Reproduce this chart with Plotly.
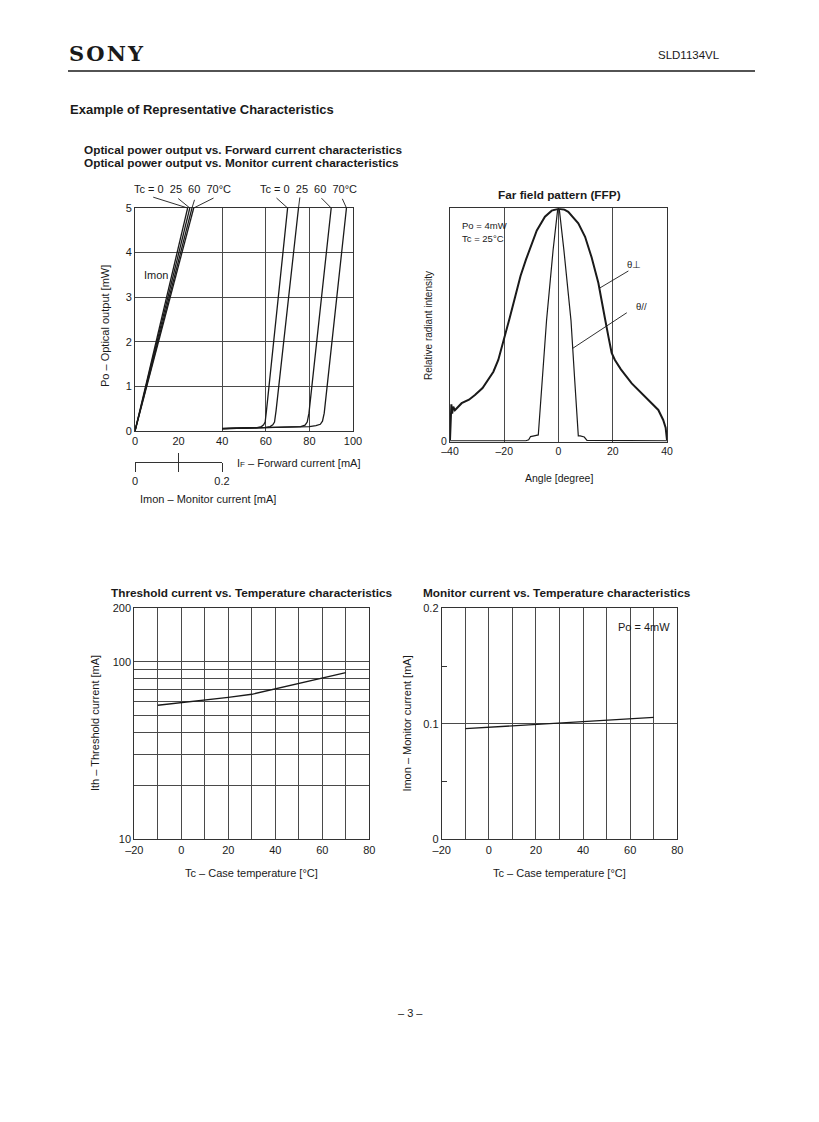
import math
import plotly.graph_objects as go

W, H = 819, 1122
def X(px): return px / W
def Y(py): return 1 - py / H

FONT = "Liberation Sans, Arial, Helvetica, sans-serif"
SERIF = "DejaVu Serif, Liberation Serif, serif"
INK = "#1a1a1a"
GRID = "#4a4a4a"
FRAME = "#333333"

# ---------------- Po vs IF / Imon ----------------
tc_labels = ["0", "25", "60", "70"]
if_tc0 = [0, 30, 56, 58, 59, 59.7, 60.3, 70]
po_tc0 = [0, 0.04, 0.075, 0.1, 0.14, 0.2, 0.45, 5]
if_tc25 = [0, 30, 60, 62, 63.2, 64, 64.7, 75]
po_tc25 = [0, 0.04, 0.08, 0.1, 0.14, 0.2, 0.45, 5]
if_tc60 = [0, 30, 60, 76, 78, 79, 79.8, 90]
po_tc60 = [0, 0.035, 0.07, 0.1, 0.13, 0.2, 0.4, 5]
if_tc70 = [0, 30, 60, 80, 83, 85, 86, 86.8, 97]
po_tc70 = [0, 0.035, 0.07, 0.1, 0.12, 0.15, 0.22, 0.4, 5]
if_curves = [(if_tc0, po_tc0), (if_tc25, po_tc25), (if_tc60, po_tc60), (if_tc70, po_tc70)]

imon_at_5mw = [0.121, 0.126, 0.131, 0.135]   # Imon [mA] at Po = 5 mW, Tc = 0/25/60/70
po_imon_ends = [0, 5]

# ---------------- Far field pattern ----------------
ang_perp = [-40, -39.8, -39.5, -39.2, -38.8, -38.2, -37, -35.7, -33, -30.8, -28, -25.9, -24,
            -22.2, -20, -18, -16, -14, -12, -10, -8, -5, -2.5, 0,
            2, 3.6, 5.5, 7.3, 9.8, 12.2, 14.7, 16.5, 17.1, 18.4, 19.6, 20.8, 23, 27, 30,
            33.1, 35, 36.8, 38.6, 39.5, 40]
int_perp = [0.007, 0.09, 0.16, 0.12, 0.15, 0.135, 0.15, 0.165, 0.18, 0.2, 0.23, 0.264, 0.3,
            0.35, 0.44, 0.53, 0.62, 0.71, 0.78, 0.845, 0.905, 0.964, 0.99, 0.998,
            0.995, 0.985, 0.96, 0.936, 0.878, 0.79, 0.68, 0.578, 0.53, 0.45, 0.38, 0.35, 0.31,
            0.25, 0.215, 0.179, 0.16, 0.136, 0.093, 0.06, 0.007]
ang_par = [-40, -12, -11, -10.3, -9, -7.45, -4.4, -2, -0.3, 0.3, 2, 4.6, 6, 7.3, 8, 9.5, 10.5, 40]
int_par = [0.004, 0.004, 0.008, 0.022, 0.025, 0.029, 0.52, 0.82, 0.995, 0.995, 0.82, 0.52,
           0.26, 0.025, 0.025, 0.02, 0.006, 0.004]

# ---------------- Threshold current vs Tc ----------------
tc_th = [-10, 0, 10, 20, 30, 40, 50, 60, 70]
ith = [56.9, 58.8, 60.9, 63.0, 65.6, 70.5, 75.7, 81.0, 86.8]

# ---------------- Monitor current vs Tc ----------------
tc_mon = [-10, 10, 30, 50, 70]
imon_mon = [0.0958, 0.0982, 0.1006, 0.1030, 0.1055]

# ---------------- tick values / labels ----------------
if_ticks = [0, 20, 40, 60, 80, 100]
po_ticks = [0, 1, 2, 3, 4, 5]
imon_scale_ticks = [0, 0.1, 0.2]
imon_scale_text = ["0", "", "0.2"]
ang_ticks = [-40, -20, 0, 20, 40]
ang_text = ["–40", "–20", "0", "20", "40"]
tc_ticks = list(range(-20, 81, 10))
tc_text = ["–20", "", "0", "", "20", "", "40", "", "60", "", "80"]
ith_ticks = [10, 20, 30, 40, 50, 60, 70, 80, 90, 100, 200]
ith_text = ["10", "", "", "", "", "", "", "", "", "100", "200"]
imon_ticks = [0, 0.1, 0.2]
imon_text = ["0", "0.1", "0.2"]

fig = go.Figure()
LW = 1.3
for xs, ys in if_curves:
    fig.add_trace(go.Scatter(x=xs, y=ys, xaxis="x", yaxis="y", mode="lines",
                             line=dict(color=INK, width=LW), showlegend=False, hoverinfo="skip"))
for im in imon_at_5mw:
    fig.add_trace(go.Scatter(x=[0, im], y=po_imon_ends, xaxis="x6", yaxis="y", mode="lines",
                             line=dict(color=INK, width=LW), showlegend=False, hoverinfo="skip"))
# helper trace so the inside-tick overlay axis is drawn
fig.add_trace(go.Scatter(x=[0], y=[0], xaxis="x7", yaxis="y", mode="markers",
                         marker=dict(size=1, opacity=0), showlegend=False, hoverinfo="skip"))

fig.add_trace(go.Scatter(x=ang_perp, y=int_perp, xaxis="x2", yaxis="y2", mode="lines",
                         line=dict(color=INK, width=2.0), showlegend=False, hoverinfo="skip"))
fig.add_trace(go.Scatter(x=ang_par, y=int_par, xaxis="x2", yaxis="y2", mode="lines",
                         line=dict(color=INK, width=1.2), showlegend=False, hoverinfo="skip"))
fig.add_trace(go.Scatter(x=tc_th, y=ith, xaxis="x3", yaxis="y3", mode="lines",
                         line=dict(color=INK, width=LW), showlegend=False, hoverinfo="skip"))
fig.add_trace(go.Scatter(x=tc_mon, y=imon_mon, xaxis="x4", yaxis="y4", mode="lines",
                         line=dict(color=INK, width=LW), showlegend=False, hoverinfo="skip"))

TICKF = dict(family=FONT, size=11, color=INK)
def ax(**kw):
    base = dict(showline=True, mirror=True, linecolor=FRAME, linewidth=1, ticks="",
                zeroline=False, showgrid=True, gridcolor=GRID, gridwidth=1,
                tickfont=TICKF, fixedrange=True, automargin=False)
    base.update(kw)
    return base

fig.update_layout(
    template="none",
    width=W, height=H, margin=dict(l=0, r=0, t=0, b=0, pad=0), autosize=False,
    paper_bgcolor="white", plot_bgcolor="white", showlegend=False,
    xaxis=ax(domain=[X(135), X(353)], range=[0, 100], anchor="y", tickvals=if_ticks),
    yaxis=ax(domain=[Y(431), Y(208)], range=[0, 5], anchor="x", tickvals=po_ticks),
    xaxis6=dict(domain=[X(135), X(222)], range=[0, 0.2], anchor="free", position=Y(462),
                showline=True, linecolor=FRAME, linewidth=1, ticks="outside", ticklen=9,
                tickcolor=FRAME, tickvals=imon_scale_ticks, ticktext=imon_scale_text,
                showgrid=False, zeroline=False, tickfont=TICKF, fixedrange=True,
                automargin=False),
    xaxis7=dict(overlaying="x6", range=[0, 0.2], anchor="free", position=Y(462),
                showline=False, ticks="inside", ticklen=9, tickcolor=FRAME,
                tickvals=imon_scale_ticks, showticklabels=False, showgrid=False,
                zeroline=False, fixedrange=True, automargin=False),
    xaxis2=ax(domain=[X(450), X(667)], range=[-40, 40], anchor="y2", tickvals=ang_ticks,
              ticktext=ang_text, tickfont=dict(family=FONT, size=10.5, color=INK)),
    yaxis2=ax(domain=[Y(441.7), Y(208.3)], range=[0, 1], anchor="x2", tickvals=[0],
              ticktext=["0"], showgrid=False, tickfont=dict(family=FONT, size=10.5, color=INK)),
    xaxis3=ax(domain=[X(134.3), X(369.3)], range=[-20, 80], anchor="y3", tickvals=tc_ticks,
              ticktext=tc_text),
    yaxis3=ax(domain=[Y(839.3), Y(608.3)], type="log", range=[1, math.log10(200)], anchor="x3",
              tickvals=ith_ticks, ticktext=ith_text),
    xaxis4=ax(domain=[X(441.7), X(677.3)], range=[-20, 80], anchor="y4", tickvals=tc_ticks,
              ticktext=tc_text),
    yaxis4=ax(domain=[Y(839.3), Y(608.3)], range=[0, 0.2], anchor="x4", tickvals=imon_ticks,
              ticktext=imon_text,
              minor=dict(tickvals=[0.05, 0.15], ticks="inside", ticklen=5, tickcolor=FRAME,
                         showgrid=False)),
)

ann = []
def txt(x, y, s, size=11, bold=False, xanchor="left", family=FONT, angle=0):
    ann.append(dict(x=X(x), y=Y(y), xref="paper", yref="paper", text=("<b>%s</b>" % s) if bold else s,
                    showarrow=False, xanchor=xanchor, yanchor="middle", textangle=angle,
                    font=dict(family=family, size=size, color=INK)))

NB = "\u00a0"
HS = "\u200a"
# header
txt(67, 54, "S" + HS + "O" + HS + "N" + HS + "Y", size=21, bold=True, family=SERIF)
txt(722, 55, "SLD1134VL", size=11.5, xanchor="right")
txt(68, 110, "Example of Representative Characteristics", size=13, bold=True)
txt(82, 150, "Optical power output vs. Forward current characteristics", size=11.8, bold=True)
txt(82, 163, "Optical power output vs. Monitor current characteristics", size=11.8, bold=True)
# plot 1
grp = "Tc = 0" + NB * 2 + "25" + NB * 2 + "60" + NB * 2 + "70°C"
txt(182, 189, grp, xanchor="center")
txt(308.3, 189, grp, xanchor="center")
txt(141.7, 275, "Imon")
txt(105, 326, "Po – Optical output [mW]", angle=-90, xanchor="center")
txt(235, 463.3, "I<span style='font-size:8px'>F</span> – Forward current [mA]")
txt(138.3, 499, "Imon – Monitor current [mA]")
# plot 2
txt(559.5, 195, "Far field pattern (FFP)", size=11.8, bold=True, xanchor="center")
txt(460, 225, "Po = 4mW", size=9.5)
txt(460, 238.3, "Tc = 25°C", size=9.5)
txt(633.8, 264, "θ⊥", size=9.5, xanchor="center")
txt(641.7, 306.7, "θ//", size=9.5, xanchor="center")
txt(428, 326, "Relative radiant intensity", size=10, angle=-90, xanchor="center")
txt(558.5, 478, "Angle [degree]", size=10.5, xanchor="center")
# plot 3
txt(251.7, 592.7, "Threshold current vs. Temperature characteristics", size=11.8, bold=True,
    xanchor="center")
txt(95, 723, "Ith – Threshold current [mA]", angle=-90, xanchor="center")
txt(251.8, 873.3, "Tc – Case temperature [°C]", xanchor="center")
# plot 4
txt(557.2, 592.7, "Monitor current vs. Temperature characteristics", size=11.8, bold=True,
    xanchor="center")
txt(616, 626.7, "Po = 4mW")
txt(407.3, 723.3, "Imon – Monitor current [mA]", angle=-90, xanchor="center")
txt(559.5, 873.3, "Tc – Case temperature [°C]", xanchor="center")
# footer
txt(410, 1013, "– 3 –", xanchor="center")

def leader(x, y, xref, yref, dx, dy):
    ann.append(dict(x=x, y=y, xref=xref, yref=yref, ax=dx, ay=dy, text="", showarrow=True,
                    arrowhead=0, arrowwidth=0.9, arrowcolor=INK, standoff=0, startstandoff=0))

imon_offsets = [(-35.9, -11.3), (-13.1, -10.7), (3.0, -9.7), (21.3, -10.7)]
for im, (dx, dy) in zip(imon_at_5mw, imon_offsets):
    leader(im, 5, "x6", "y", dx, dy)
if_offsets = [(-12.6, -11.3), (1.5, -12.0), (-11.2, -11.3), (-4.8, -10.7)]
for (xs, ys), (dx, dy) in zip(if_curves, if_offsets):
    leader(xs[-1], ys[-1], "x", "y", dx, dy)
leader(15.0, 0.657, "x2", "y2", 30.7, -18.3)
leader(5.24, 0.40, "x2", "y2", 55.6, -36.6)

fig.update_layout(annotations=ann,
                  shapes=[dict(type="line", xref="paper", yref="paper", x0=X(68), x1=X(755),
                               y0=Y(71), y1=Y(71), line=dict(color=INK, width=1.5))])

fig.write_html("out.html", config={"displayModeBar": False},
               post_script="document.body.style.margin='0px';"
                           "document.documentElement.style.overflow='hidden';")
